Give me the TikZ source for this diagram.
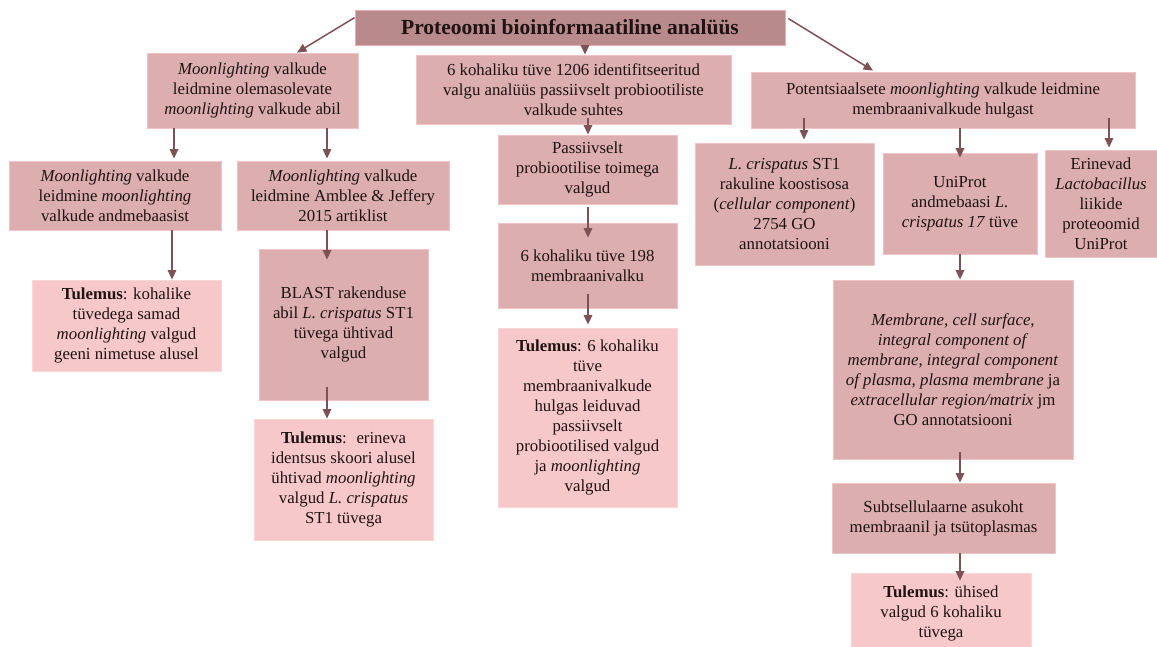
\documentclass[tikz,border=0pt]{standalone}
\usepackage{fontspec}
\setmainfont{Liberation Serif}
\usetikzlibrary{arrows.meta,calc}
\definecolor{boxc}{RGB}{220,174,175}
\definecolor{boxline}{RGB}{240,196,197}
\definecolor{resc}{RGB}{247,200,201}
\definecolor{resline}{RGB}{250,214,214}
\definecolor{titlec}{RGB}{185,138,139}
\definecolor{titleline}{RGB}{228,178,180}
\definecolor{arrc}{RGB}{125,82,87}
\definecolor{txt}{RGB}{30,18,18}
\tikzset{
  box/.style={rectangle, fill=boxc, draw=boxline, line width=0.8pt, align=center,
    inner sep=2pt, text=txt, font=\fontsize{16.8}{20}\selectfont},
  res/.style={box, fill=resc, draw=resline},
  ttl/.style={box, fill=titlec, draw=titleline, font=\fontsize{21.5}{24}\selectfont\bfseries},
  arr/.style={draw=arrc, line width=1.5pt, -{Triangle[length=9.5pt,width=8.5pt]}},
}
\begin{document}
\begin{tikzpicture}[x=1pt,y=-1pt]
\fill[white] (0,0) rectangle (1157,646);
\useasboundingbox (0,0) rectangle (1157,646);

\node[ttl, minimum width=430pt, minimum height=35pt] (T) at (570,27.5) {Proteoomi bioinformaatiline analüüs};

\node[box, minimum width=211pt, minimum height=75pt] (A) at (252.5,90.5)
 {\emph{Moonlighting} valkude\\leidmine olemasolevate\\\emph{moonlighting} valkude abil};
\node[box, minimum width=315pt, minimum height=69pt] (B) at (573.5,89.5)
 {6 kohaliku tüve 1206 identifitseeritud\\valgu analüüs passiivselt probiootiliste\\valkude suhtes};
\node[box, minimum width=384pt, minimum height=56pt] (C) at (943,100)
 {Potentsiaalsete \emph{moonlighting} valkude leidmine\\membraanivalkude hulgast};

\node[box, minimum width=212pt, minimum height=69pt] (D) at (115,195.5)
 {\emph{Moonlighting} valkude\\leidmine \emph{moonlighting}\\valkude andmebaasist};
\node[box, minimum width=212pt, minimum height=69pt] (E) at (343,195.5)
 {\emph{Moonlighting} valkude\\leidmine Amblee \& Jeffery\\2015 artiklist};
\node[res, minimum width=189pt, minimum height=91pt] (F) at (126.5,325.5)
 {\textbf{Tulemus}: kohalike\\tüvedega samad\\\emph{moonlighting} valgud\\geeni nimetuse alusel};
\node[box, minimum width=169pt, minimum height=151pt] (G) at (343.5,324.5)
 {BLAST rakenduse\\abil \emph{L. crispatus} ST1\\tüvega ühtivad\\valgud};
\node[res, minimum width=179pt, minimum height=121pt] (H) at (343.5,479.5)
 {\textbf{Tulemus}:~ erineva\\identsus skoori alusel\\ühtivad \emph{moonlighting}\\valgud \emph{L. crispatus}\\ST1 tüvega};

\node[box, minimum width=179pt, minimum height=69pt] (I) at (587.5,169.5)
 {Passiivselt\\probiootilise toimega\\valgud};
\node[box, minimum width=179pt, minimum height=85pt] (J) at (587.5,265.5)
 {6 kohaliku tüve 198\\membraanivalku};
\node[res, minimum width=179pt, minimum height=179pt] (K) at (587.5,417.5)
 {\textbf{Tulemus}: 6 kohaliku\\tüve\\membraanivalkude\\hulgas leiduvad\\passiivselt\\probiootilised valgud\\ja \emph{moonlighting}\\valgud};

\node[box, minimum width=179pt, minimum height=122pt] (L) at (784.5,204)
 {\emph{L. crispatus} ST1\\rakuline koostisosa\\(\emph{cellular component})\\2754 GO\\annotatsiooni};
\node[box, minimum width=154pt, minimum height=101pt] (M) at (960,203.5)
 {UniProt\\andmebaasi \emph{L.}\\\emph{crispatus 17} tüve};
\node[box, minimum width=112pt, minimum height=107pt] (N) at (1101,203.5)
 {Erinevad\\\emph{Lactobacillus}\\liikide\\proteoomid\\UniProt};
\node[box, minimum width=240pt, minimum height=179pt] (O) at (953,369.5)
 {\emph{Membrane, cell surface,}\\\emph{integral component of}\\\emph{membrane, integral component}\\\emph{of plasma, plasma membrane} ja\\\emph{extracellular region/matrix} jm\\GO annotatsiooni};
\node[box, minimum width=223pt, minimum height=70pt] (P) at (943.5,518)
 {Subtsellulaarne asukoht\\membraanil ja tsütoplasmas};
\node[res, minimum width=180pt, minimum height=80pt] (Q) at (941,613)
 {\textbf{Tulemus}: ühised\\valgud 6 kohaliku\\tüvega};

% connectors
\draw[arr] ($(T.north west)+(0,8)$) -- ($(A.north)+(44.5,0)$);
\draw[arr] (T.south -| 585,0) -- (B.north -| 585,0);
\draw[arr] ($(T.north east)+(3,9)$) -- ($(C.north)+(-70,-1)$);

\draw[arr] (A.south -| 174,0) -- ($(D.north -| 174,0)+(0,-2)$);
\draw[arr] (A.south -| 327,0) -- ($(E.north -| 327,0)+(0,-2)$);
\draw[arr] (D.south -| 172,0) -- (F.north -| 172,0);
\draw[arr] (E.south -| 327,0) -- ($(G.north -| 327,0)+(0,11)$);
\draw[arr] ($(G.south -| 327,0)+(0,-13)$) -- (H.north -| 327,0);

\draw[arr] ($(B.south -| 588,0)+(0,-6)$) -- (I.north -| 588,0);
\draw[arr] ($(I.south -| 588,0)+(0,3)$) -- ($(J.north -| 588,0)+(0,15)$);
\draw[arr] ($(J.south -| 588,0)+(0,-14)$) -- ($(K.north -| 588,0)+(0,-3)$);

\draw[arr] ($(C.south -| 804,0)+(0,-10)$) -- ($(L.north -| 804,0)+(0,-3)$);
\draw[arr] (C.south -| 960,0) -- ($(M.north -| 960,0)+(0,5)$);
\draw[arr] ($(C.south -| 1109,0)+(0,-10)$) -- ($(N.north -| 1109,0)+(0,-2)$);
\draw[arr] (M.south -| 960,0) -- (O.north -| 960,0);
\draw[arr] ($(O.south -| 960,0)+(0,-7)$) -- (P.north -| 960,0);
\draw[arr] (P.south -| 960,0) -- ($(Q.north -| 960,0)+(0,8)$);
\end{tikzpicture}
\end{document}
